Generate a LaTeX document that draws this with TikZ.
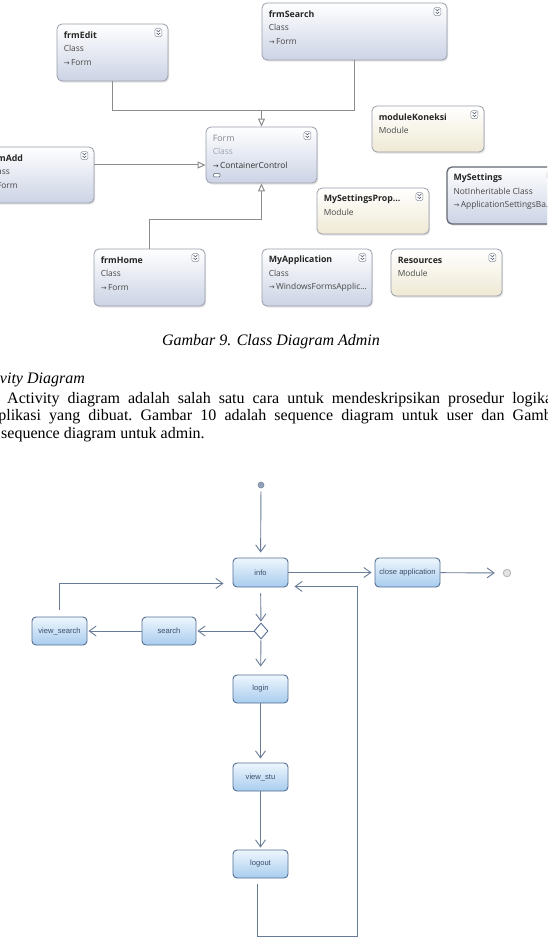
\documentclass[tikz,border=0pt]{standalone}
\usepackage{fontspec}
\setmainfont{Liberation Serif}
\newfontfamily\uifont{Open Sans}
\newfontfamily\actfont{Liberation Sans}
\newfontfamily\arrowfont{DejaVu Sans}
\usetikzlibrary{arrows.meta,shapes.geometric,shadows}

\definecolor{clsbot}{RGB}{204,211,229}
\definecolor{modbot}{RGB}{239,233,212}
\definecolor{clsborder}{RGB}{152,158,170}
\definecolor{selborder}{RGB}{100,104,114}
\definecolor{conncol}{RGB}{140,140,140}
\definecolor{formgray}{RGB}{128,132,144}
\definecolor{formlight}{RGB}{160,164,175}
\definecolor{subtext}{RGB}{72,72,72}
\definecolor{actborder}{RGB}{84,110,148}
\definecolor{acttop}{RGB}{238,246,253}
\definecolor{actbot}{RGB}{168,204,238}
\definecolor{actline}{RGB}{104,124,152}
\definecolor{acttext}{RGB}{58,78,108}
\definecolor{iconborder}{RGB}{140,146,160}
\definecolor{icondark}{RGB}{80,90,110}
\definecolor{startfill}{RGB}{150,160,180}

\tikzset{
  umlbox/.style={draw=clsborder, line width=0.8pt, rounded corners=5pt,
    top color=white, bottom color=clsbot, inner sep=0,
    drop shadow={shadow xshift=1.2pt, shadow yshift=-1.6pt, opacity=0.22}},
  modbox/.style={umlbox, bottom color=modbot},
  selbox/.style={umlbox, draw=selborder, line width=1.3pt},
  ttl/.style={anchor=west, inner sep=0, font=\uifont\bfseries\fontsize{8.8}{10}\selectfont, text=black!85},
  sub/.style={anchor=west, inner sep=0, font=\uifont\fontsize{8.4}{10}\selectfont, text=subtext},
  conn/.style={draw=conncol, line width=1pt},
  inh/.style={conn, -{Triangle[open, fill=white, length=8pt, width=7pt]}},
  actnode/.style={draw=actborder, line width=0.9pt, rounded corners=4pt,
    top color=acttop, bottom color=actbot, minimum width=55pt, minimum height=29pt,
    inner sep=1pt, font=\actfont\fontsize{7.6}{9}\selectfont, text=acttext},
  flow/.style={draw=actline, line width=0.9pt,
    -{Straight Barb[length=7pt, width=10pt, line width=0.9pt]}},
  bodytext/.style={anchor=base west, inner sep=0, font=\fontsize{16}{18}\selectfont},
  collapse/.pic={
    \draw[draw=iconborder, fill=white, rounded corners=1.5pt, line width=0.5pt] (-3.5,-4) rectangle (3.5,4);
    \draw[draw=icondark, line width=0.6pt] (-1.8,-2.4) -- (0,-0.8) -- (1.8,-2.4) (-1.8,0.4) -- (0,2) -- (1.8,0.4);
  }
}

\newcommand\arr{{\arrowfont\fontsize{7}{8}\selectfont →}\,}
\newcommand\umltwo[3]{%
  \node[ttl] (#1-a) at ([shift={(7,11.5)}]#1.north west) {#2};
  \node[sub] (#1-b) at ([shift={(7,25)}]#1.north west) {#3};
  \pic at ([shift={(-10,9)}]#1.north east) {collapse};}
\newcommand\umlthree[4]{%
  \umltwo{#1}{#2}{#3}%
  \node[sub] (#1-c) at ([shift={(7,38.5)}]#1.north west) {#4};}

\begin{document}
\begin{tikzpicture}[x=1pt, y=-1pt]
\useasboundingbox (0,0) rectangle (547,952);
\fill[white] (0,0) rectangle (547,952);
\begin{scope}
\clip (0,0) rectangle (547,952);

% ---------- class diagram ----------
\node[umlbox, minimum width=111pt, minimum height=57pt] (frmEdit) at (112.5,52.5) {};
\node[umlbox, minimum width=185pt, minimum height=57pt] (frmSearch) at (354.5,31.5) {};
\node[umlbox, minimum width=111pt, minimum height=56pt] (Form) at (261.5,155) {};
\node[umlbox, minimum width=111pt, minimum height=56pt] (frmAdd) at (38.5,175) {};
\node[modbox, minimum width=112pt, minimum height=46pt] (modKon) at (428,129) {};
\node[selbox, minimum width=113pt, minimum height=57pt] (MySet) at (503.5,195.5) {};
\node[modbox, minimum width=112pt, minimum height=46pt] (MySetProp) at (373,211) {};
\node[umlbox, minimum width=111pt, minimum height=57pt] (frmHome) at (149.5,277.5) {};
\node[umlbox, minimum width=110pt, minimum height=57pt] (MyApp) at (317,277.5) {};
\node[modbox, minimum width=111pt, minimum height=47pt] (Res) at (446.5,272.5) {};

\umlthree{frmEdit}{frmEdit}{Class}{\arr Form}
\umlthree{frmSearch}{frmSearch}{Class}{\arr Form}
\umlthree{frmAdd}{frmAdd}{Class}{\arr Form}
\umltwo{modKon}{moduleKoneksi}{Module}
\umlthree{MySet}{MySettings}{NotInheritable Class}{\arr ApplicationSettingsBa...}
\umltwo{MySetProp}{MySettingsProp...}{Module}
\umlthree{frmHome}{frmHome}{Class}{\arr Form}
\umlthree{MyApp}{MyApplication}{Class}{\arr WindowsFormsApplic...}
\umltwo{Res}{Resources}{Module}

\node[ttl, text=formgray] (Form-a) at ([shift={(7,11.5)}]Form.north west) {\mdseries Form};
\node[sub, text=formlight] (Form-b) at ([shift={(7,25)}]Form.north west) {Class};
\node[sub, text=black!80] (Form-c) at ([shift={(7,38.5)}]Form.north west) {\arr ContainerControl};
\pic at ([shift={(-10,9)}]Form.north east) {collapse};
\draw[draw=icondark, fill=white, rounded corners=1pt, line width=0.5pt] (213.5,173.5) rectangle (220,177);

\coordinate (j1) at (261.5,111);
\coordinate (j2) at (150,165);
\coordinate (j3) at (261.5,219);
\draw[conn] (frmEdit.south) |- (j1);
\draw[conn] (frmSearch.south) |- (j1);
\draw[inh] (j1) -- (Form.north);
\draw[inh] (frmAdd.east |- j2) -- (Form.west |- j2);
\draw[inh] (frmHome.north) |- (j3) -- (Form.south);

% ---------- text ----------
\node[anchor=base, inner sep=0, font=\itshape\fontsize{16}{18}\selectfont] (cap) at (271,345) {Gambar 9. Class Diagram Admin};
\node[bodytext, font=\itshape\fontsize{16}{18}\selectfont] (head) at (-26,383) {Activity Diagram};
\node[bodytext] (par1) at (7,403) {\hbox to 545pt{Activity\hfill diagram\hfill adalah\hfill salah\hfill satu\hfill cara\hfill untuk\hfill mendeskripsikan\hfill prosedur\hfill logika}};
\node[bodytext] (par2) at (-9,420.5) {\hbox to 573pt{aplikasi\hfill yang\hfill dibuat.\hfill Gambar\hfill 10\hfill adalah\hfill sequence\hfill diagram\hfill untuk\hfill user\hfill dan\hfill Gambar}};
\node[bodytext] (par3) at (1,438) {sequence diagram untuk admin.};

% ---------- activity diagram ----------
\node[circle, fill=startfill, draw=actborder!80, line width=0.6pt, minimum size=6pt, inner sep=0] (start) at (261,485) {};
\node[actnode] (info) at (260.5,572.5) {info};
\node[actnode, minimum width=65pt] (close) at (407.5,572.5) {close application};
\node[circle, draw=gray!55, fill=gray!22, line width=0.9pt, minimum size=7.5pt, inner sep=0] (end) at (507,573) {};
\node[diamond, draw=actborder, fill=white, line width=0.9pt, minimum width=14pt, minimum height=16pt, inner sep=0] (dec) at (261,631) {};
\node[actnode, minimum width=54pt, minimum height=28pt] (search) at (169,631) {search};
\node[actnode, minimum height=28pt] (vsearch) at (59.5,631) {view\_search};
\node[actnode, minimum height=28pt] (login) at (260.5,689) {login};
\node[actnode, minimum height=28pt] (vstu) at (260.5,777) {view\_stu};
\node[actnode, minimum height=28pt] (logout) at (260.5,864) {logout};

\draw[flow, shorten <=3pt, shorten >=5pt] (start) -- (info);
\draw[flow, shorten >=3pt] (info) -- (close);
\draw[flow, shorten >=8pt] (close) -- (end);
\draw[flow, shorten <=6pt, shorten >=1pt] (info) -- (dec);
\draw[flow, shorten >=1pt] (dec) -- (search);
\draw[flow, shorten >=1pt] (search) -- (vsearch);
\draw[flow, shorten <=1pt, shorten >=8pt] (dec) -- (login);
\draw[flow, shorten >=4pt] (login) -- (vstu);
\draw[flow, shorten >=2pt] (vstu) -- (logout);
\draw[flow, shorten <=7pt, shorten >=9pt] (vsearch.north) |- ([yshift=4pt]info.south west);
\coordinate (c2) at (357,936);
\draw[flow, shorten <=6pt, shorten >=6pt] ([xshift=-3.5pt]logout.south) |- (c2) |- ([yshift=1pt]info.south east);
\end{scope}
\end{tikzpicture}
\end{document}
